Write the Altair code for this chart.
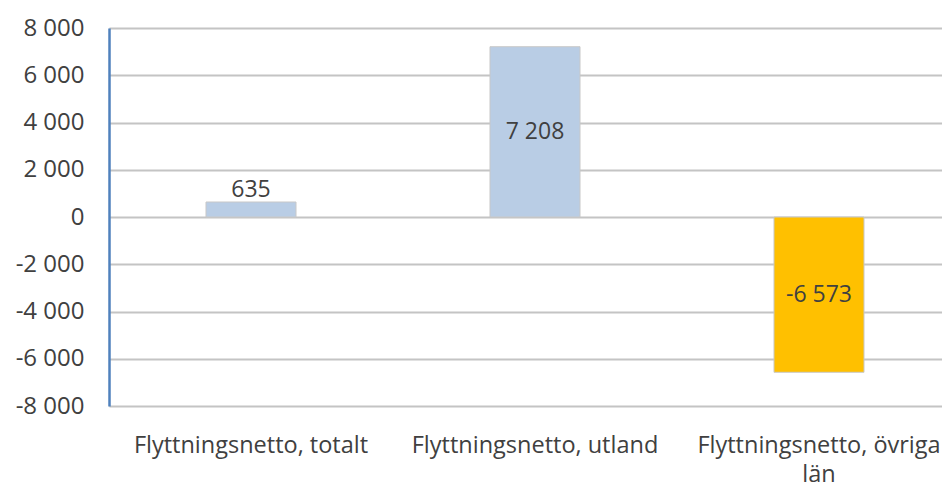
import altair as alt
import pandas as pd

categories = ["Flyttningsnetto, totalt", "Flyttningsnetto, utland", "Flyttningsnetto, övriga län"]
values = [635, 7208, -6573]
colors = ["#B9CDE5", "#B9CDE5", "#FFC000"]
y_ticks = [-8000, -6000, -4000, -2000, 0, 2000, 4000, 6000, 8000]

df = pd.DataFrame({"cat": categories, "value": values, "color": colors})

FONT = "Open Sans"
TXT = "#404040"
NUMFMT = "replace(replace(format({v}, ','), ',', ' '), '\u2212', '-')"

xscale = alt.Scale(range=[0, 852], paddingInner=0.683, paddingOuter=0.3415)

x = alt.X("cat:N", sort=categories, title=None, scale=xscale,
          axis=alt.Axis(labelExpr="datum.value == 'Flyttningsnetto, övriga län' ? ['Flyttningsnetto, övriga', 'län'] : datum.value",
                        labelAngle=0, labelFont=FONT, labelFontSize=23.5, labelColor=TXT,
                        labelPadding=27, ticks=False, domain=False, labelLineHeight=29,
                        labelLimit=0))
y = alt.Y("value:Q", title=None,
          scale=alt.Scale(domain=[-8000, 8000], nice=False),
          axis=alt.Axis(values=y_ticks, labelExpr=NUMFMT.format(v="datum.value"),
                        labelFont=FONT, labelFontSize=24, labelColor=TXT, labelPadding=25,
                        ticks=False, domain=True, domainColor="#4F81BD", domainWidth=2.5,
                        grid=True, gridColor="#C4C4C4", gridWidth=2))

base = alt.Chart(df)

bars = base.mark_bar(stroke="#C8C8C8", strokeWidth=1).encode(
    x=x, y=y, y2=alt.datum(0),
    color=alt.Color("color:N", scale=None),
)

text_mid = base.transform_filter("abs(datum.value) >= 1500").transform_calculate(
    mid="datum.value / 2",
    lab=NUMFMT.format(v="datum.value"),
).mark_text(font=FONT, fontSize=23, color=TXT, baseline="middle").encode(
    x=alt.X("cat:N", sort=categories, scale=xscale),
    y=alt.Y("mid:Q"),
    text="lab:N",
)

text_out = base.transform_filter("abs(datum.value) < 1500").transform_calculate(
    lab=NUMFMT.format(v="datum.value"),
).mark_text(font=FONT, fontSize=23, color=TXT, baseline="bottom", dy=0).encode(
    x=alt.X("cat:N", sort=categories, scale=xscale),
    y=alt.Y("value:Q"),
    text="lab:N",
)

chart = alt.layer(bars, text_mid, text_out).properties(
    width=833, height=378,
    autosize=alt.AutoSizeParams(type="none"),
    padding={"left": 101, "top": 20, "right": 0, "bottom": 80},
).configure_view(stroke=None).configure(background="white")

chart.save("out.html", embed_options={"renderer": "svg", "actions": False})
